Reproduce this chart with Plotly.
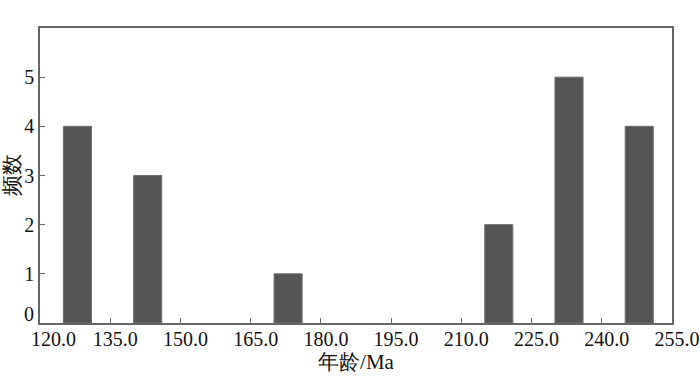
import plotly.graph_objects as go

# Data (bin centres in Ma, counts)
ages = [128, 143, 173, 218, 233, 248]
counts = [4, 3, 1, 2, 5, 4]
x_ticks = [120, 135, 150, 165, 180, 195, 210, 225, 240, 255]
x_labels = ["120.0", "135.0", "150.0", "165.0", "180.0",
            "195.0", "210.0", "225.0", "240.0", "255.0"]
y_ticks = [0, 1, 2, 3, 4, 5]
y_labels = ["0", "1", "2", "3", "4", "5"]

FONT = "Times New Roman, Liberation Serif, Noto Serif, DejaVu Serif, serif"

fig = go.Figure()
fig.add_trace(go.Bar(
    x=ages, y=counts, width=6,
    marker=dict(color="#555555", line=dict(color="#6e6e6e", width=1)),
))

fig.update_layout(
    width=700, height=384,
    margin=dict(l=40, r=28, t=28, b=61),
    paper_bgcolor="white", plot_bgcolor="white",
    showlegend=False,
    font=dict(family=FONT, size=19, color="#111111"),
)
# In the reference the corner labels ("120.0" and "0") are nudged apart
fig.update_xaxes(
    range=[120, 255], tickvals=x_ticks, ticktext=[""] + x_labels[1:],
    ticks="inside", ticklen=5, tickcolor="#666666", tickwidth=1.2,
    showline=True, linecolor="#666666", linewidth=1.5, mirror=True,
    showgrid=False, zeroline=False, automargin=False,
    tickfont=dict(family=FONT, size=20),
    ticklabelshift=5, ticklabelstandoff=-3,
    title=dict(text="年龄/Ma", font=dict(family=FONT, size=21), standoff=0),
)
fig.add_annotation(
    x=x_ticks[0], y=0, xref="x", yref="paper", text=x_labels[0],
    showarrow=False, xanchor="center", yanchor="top", xshift=13, yshift=-3,
    font=dict(family=FONT, size=20, color="#111111"),
)
fig.update_yaxes(
    range=[0, 6], tickvals=y_ticks, ticktext=[""] + y_labels[1:],
    ticks="inside", ticklen=5, tickcolor="#666666", tickwidth=1.2,
    showline=True, linecolor="#666666", linewidth=1.5, mirror=True,
    showgrid=False, zeroline=False, automargin=False,
    tickfont=dict(family=FONT, size=20),
    title=dict(text="频数", font=dict(family=FONT, size=21), standoff=2),
)
fig.add_annotation(
    x=0, y=y_ticks[0], xref="paper", yref="y", text=y_labels[0],
    showarrow=False, xanchor="right", yanchor="bottom", xshift=-4, yshift=-4,
    font=dict(family=FONT, size=20, color="#111111"),
)

fig.write_html("out.html", config={"displayModeBar": False},
               post_script="document.body.style.margin='0';")
